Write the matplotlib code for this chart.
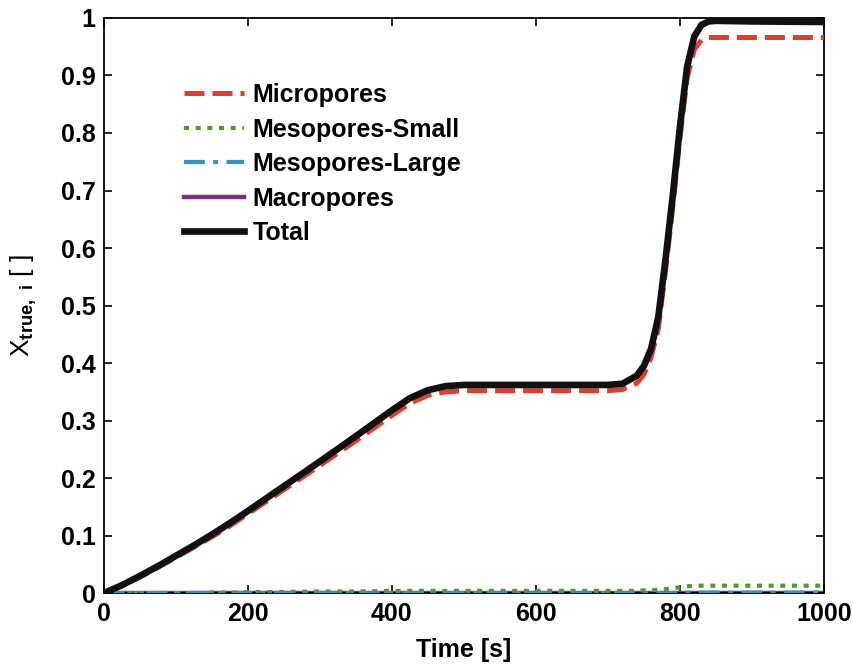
import numpy as np
import matplotlib.pyplot as plt

plt.rcParams['font.family'] = ['Liberation Sans', 'DejaVu Sans']
plt.rcParams['mathtext.fontset'] = 'custom'
plt.rcParams['mathtext.rm'] = 'Liberation Sans'
plt.rcParams['mathtext.bf'] = 'Liberation Sans:bold'

# Time grid (s)
t = [0, 25, 50, 75, 100, 125, 150, 175, 200, 250, 300, 350, 400, 425, 450,
     475, 500, 600, 700, 720, 740, 750, 760, 770, 780, 790, 800, 810, 820,
     830, 840, 850, 900, 1000]

total = [0, 0.014, 0.030, 0.047, 0.065, 0.083, 0.102, 0.122, 0.143, 0.186,
         0.229, 0.273, 0.318, 0.339, 0.353, 0.360, 0.362, 0.362, 0.362, 0.364,
         0.378, 0.395, 0.425, 0.48, 0.58, 0.69, 0.81, 0.915, 0.968, 0.988,
         0.994, 0.995, 0.994, 0.993]

micro = [0, 0.013, 0.028, 0.045, 0.062, 0.080, 0.098, 0.117, 0.138, 0.180,
         0.222, 0.265, 0.309, 0.330, 0.344, 0.350, 0.352, 0.352, 0.352, 0.354,
         0.365, 0.380, 0.410, 0.46, 0.56, 0.67, 0.79, 0.895, 0.945, 0.962,
         0.966, 0.966, 0.966, 0.966]

meso_small = [0, 0, 0, 0, 0, 0, 0.001, 0.001, 0.002, 0.002, 0.003, 0.003,
              0.004, 0.004, 0.004, 0.004, 0.004, 0.004, 0.004, 0.004, 0.004,
              0.005, 0.005, 0.006, 0.007, 0.009, 0.010, 0.012, 0.013, 0.013,
              0.013, 0.013, 0.013, 0.013]

meso_large = [0, 0, 0, 0, 0, 0, 0, 0, 0, 0, 0, 0, 0, 0, 0, 0, 0, 0, 0, 0,
              0, 0, 0, 0, 0, 0, 0.001, 0.001, 0.001, 0.001, 0.001, 0.001,
              0.001, 0.001]

macro = [0] * len(t)

fig = plt.figure(figsize=(8.52, 6.65), dpi=100)
ax = fig.add_axes([0.122, 0.108, 0.845, 0.865])

ax.plot(t, micro, color='#d9402f', lw=3.6, dashes=(4, 1.6), label='Micropores', zorder=4)
ax.plot(t, meso_small, color='#4f9a2e', lw=3.0, dashes=(1.2, 1.6), label='Mesopores-Small', zorder=3)
ax.plot(t, meso_large, color='#3a8fc0', lw=3.0, dashes=(5, 2, 1.2, 2), label='Mesopores-Large', zorder=3)
ax.plot(t, macro, color='#7b2f7f', lw=3.2, label='Macropores', zorder=2)
ax.plot(t, total, color='#111111', lw=4.8, label='Total', zorder=5)

ax.set_xlim(0, 1000)
ax.set_ylim(0, 1)
ax.set_xticks(np.arange(0, 1001, 200))
ax.set_yticks(np.arange(0, 1.01, 0.1))
ax.set_yticklabels(['0', '0.1', '0.2', '0.3', '0.4', '0.5', '0.6', '0.7', '0.8', '0.9', '1'])
ax.tick_params(direction='in', top=True, right=True, length=6, width=1.2,
               labelsize=18, pad=6)
for lab in ax.get_xticklabels() + ax.get_yticklabels():
    lab.set_fontweight('bold')
for s in ax.spines.values():
    s.set_linewidth(1.3)

ax.set_xlabel('Time [s]', fontsize=18, fontweight='bold', labelpad=9)
ax.set_ylabel(r'X$_{\mathbf{true,\ i}}$ [ ]', fontsize=19, labelpad=16)

leg = ax.legend(loc='upper left', bbox_to_anchor=(0.08, 0.926), frameon=False,
                prop={'weight': 'bold', 'size': 18}, handlelength=2.4,
                handletextpad=0.35, labelspacing=0.42)

fig.savefig('out.png', dpi=100)
